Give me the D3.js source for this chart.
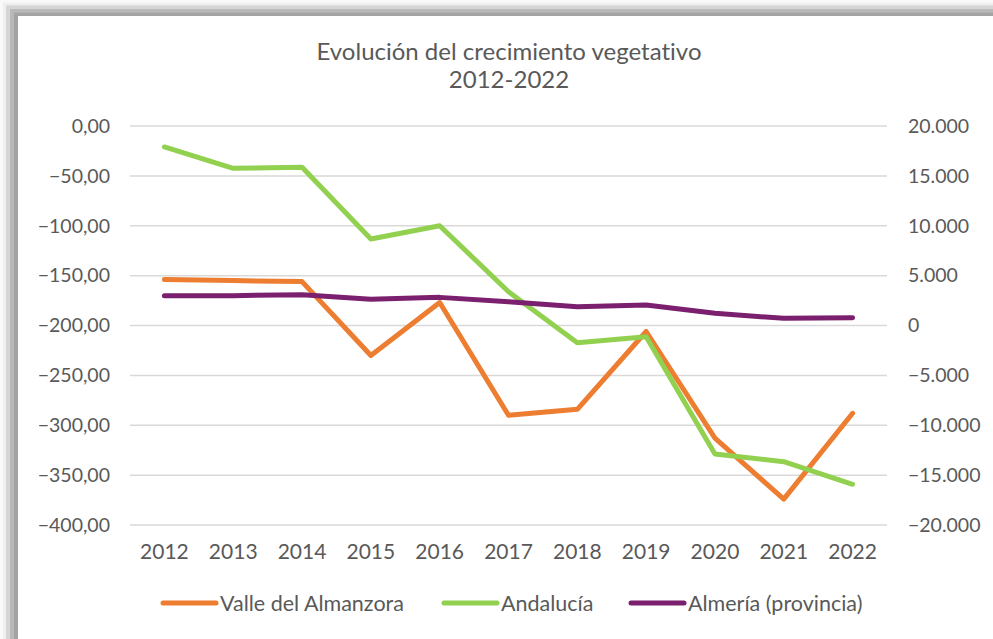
<!DOCTYPE html>
<html>
<head>
<meta charset="utf-8">
<script src="https://cdn.jsdelivr.net/npm/d3@7"></script>
<style>
  body { margin: 0; background: #fff; }
  svg { display: block; font-family: Lato, "Open Sans", sans-serif; font-variant-ligatures: none; }
</style>
</head>
<body>
<div id="chart"></div>
<script>
// data
var years = ["2012", "2013", "2014", "2015", "2016", "2017", "2018", "2019", "2020", "2021", "2022"];
var valle = [-154, -155, -156, -230, -177, -290, -284, -206, -313, -374, -288];
var andalucia = [17900, 15760, 15860, 8670, 10000, 3390, -1720, -1120, -12880, -13650, -15920];
var almeria = [2990, 2990, 3090, 2620, 2820, 2390, 1890, 2050, 1220, 720, 780];
var leftTicks = [0, -50, -100, -150, -200, -250, -300, -350, -400];
var rightTicks = [20000, 15000, 10000, 5000, 0, -5000, -10000, -15000, -20000];

var svgWidth = 993;
var svgHeight = 639;

var margin = { top: 126, right: 106, bottom: 114, left: 130 };
var width = svgWidth - margin.left - margin.right;
var height = svgHeight - margin.top - margin.bottom;

var svg = d3.select("#chart")
  .append("svg")
  .attr("width", svgWidth)
  .attr("height", svgHeight);

// shadow frame on top / left
var shades = ["#f9f9f9", "#efefef", "#d6d6d6", "#b9b9b9", "#a3a3a3"];
var steps = [0, 3, 6, 10, 14];
shades.forEach(function (c, i) {
  svg.append("rect")
    .attr("x", steps[i]).attr("y", steps[i] * 0.9)
    .attr("width", svgWidth).attr("height", svgHeight)
    .attr("fill", c);
});
svg.append("rect")
  .attr("x", 18).attr("y", 16)
  .attr("width", svgWidth).attr("height", svgHeight)
  .attr("fill", "#fff");

var chartGroup = svg.append("g")
  .attr("transform", `translate(${margin.left}, ${margin.top})`);

var x = d3.scaleBand().domain(years).range([0, width]);
var yLeft = d3.scaleLinear().domain([-400, 0]).range([height, 0]);
var yRight = d3.scaleLinear().domain([-20000, 20000]).range([height, 0]);

var fmtLeft = function (d) { return d3.format(".2f")(d).replace(".", ","); };
var fmtRight = function (d) { return d3.format(",")(d).replace(/,/g, "."); };

// gridlines
chartGroup.selectAll(".grid")
  .data(leftTicks)
  .enter()
  .append("line")
  .attr("x1", 0).attr("x2", width)
  .attr("y1", d => yLeft(d)).attr("y2", d => yLeft(d))
  .attr("stroke", "#d9d9d9")
  .attr("stroke-width", 1.5);

// axes
var leftAxis = d3.axisLeft(yLeft).tickValues(leftTicks).tickFormat(fmtLeft).tickSize(0).tickPadding(20);
var rightAxis = d3.axisRight(yRight).tickValues(rightTicks).tickFormat(fmtRight).tickSize(0).tickPadding(21);
var bottomAxis = d3.axisBottom(x).tickSize(0).tickPadding(19);

var axisSizes = ["19.5px", "19.5px", "21px"];
[chartGroup.append("g").call(leftAxis),
 chartGroup.append("g").attr("transform", `translate(${width}, 0)`).call(rightAxis),
 chartGroup.append("g").attr("transform", `translate(0, ${height})`).call(bottomAxis)
].forEach(function (g, i) {
  g.select(".domain").remove();
  g.selectAll("text")
    .attr("fill", "#595959")
    .style("font-size", axisSizes[i])
    .style("font-family", "Lato, sans-serif");
});

// lines
var series = [
  { name: "Valle del Almanzora", values: valle, scale: yLeft, color: "#ED7D31" },
  { name: "Andalucía", values: andalucia, scale: yRight, color: "#92D050" },
  { name: "Almería (provincia)", values: almeria, scale: yRight, color: "#7B1F6F" }
];

series.forEach(function (s) {
  var line = d3.line()
    .x((d, i) => x(years[i]) + x.bandwidth() / 2)
    .y(d => s.scale(d));
  chartGroup.append("path")
    .datum(s.values)
    .attr("d", line)
    .attr("fill", "none")
    .attr("stroke", s.color)
    .attr("stroke-width", 5)
    .attr("stroke-linejoin", "round")
    .attr("stroke-linecap", "round");
});

// title
var title = svg.append("text")
  .attr("x", 509)
  .attr("y", 60)
  .attr("text-anchor", "middle")
  .attr("fill", "#595959")
  .style("font-size", "24px");
title.append("tspan").attr("x", 509).text("Evolución del crecimiento vegetativo");
title.append("tspan").attr("x", 509).attr("dy", 28).text("2012-2022");

// legend
var legendX = [163, 444, 631];
var legend = svg.selectAll(".legend")
  .data(series)
  .enter()
  .append("g")
  .attr("transform", (d, i) => `translate(${legendX[i]}, 603)`);

legend.append("line")
  .attr("x1", 0).attr("x2", 53)
  .attr("stroke", d => d.color)
  .attr("stroke-width", 5)
  .attr("stroke-linecap", "round");

legend.append("text")
  .attr("x", 57)
  .attr("dy", "0.35em")
  .attr("fill", "#595959")
  .style("font-size", "21.5px")
  .text(d => d.name);
</script>
</body>
</html>
